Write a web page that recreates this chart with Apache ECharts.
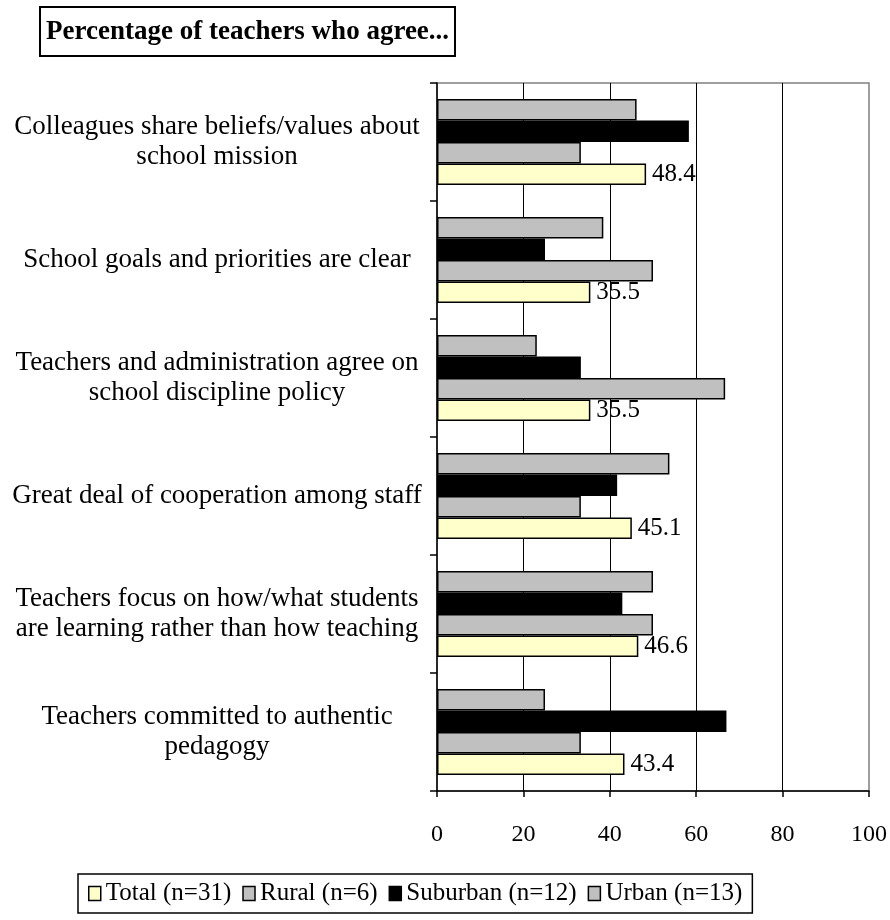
<!DOCTYPE html>
<html>
<head>
<meta charset="utf-8">
<script src="https://cdn.jsdelivr.net/npm/echarts@6/dist/echarts.min.js"></script>
<style>
  html, body { margin: 0; padding: 0; background: #ffffff; }
  #chart { width: 890px; height: 920px; }
</style>
</head>
<body>
<div id="chart"></div>
<script>
// Survey items, top to bottom
const categories = [
  'Colleagues share beliefs/values about\nschool mission',
  'School goals and priorities are clear',
  'Teachers and administration agree on\nschool discipline policy',
  'Great deal of cooperation among staff',
  'Teachers focus on how/what students\nare learning rather than how teaching',
  'Teachers committed to authentic\npedagogy'
];

// Percent agreeing, per group
const totalValues    = [48.4, 35.5, 35.5, 45.1, 46.6, 43.4];
const ruralValues    = [33.3, 50.0, 66.7, 33.3, 50.0, 33.3];
const suburbanValues = [58.3, 25.0, 33.3, 41.7, 42.9, 67.0];
const urbanValues    = [46.2, 38.5, 23.1, 53.8, 50.0, 25.0];

const seriesNames = ['Total (n=31)', 'Rural (n=6)', 'Suburban (n=12)', 'Urban (n=13)'];
const xTickLabels = ['0', '20', '40', '60', '80', '100'];

const FONT = "'Liberation Serif', 'Times New Roman', serif";
const chart = echarts.init(document.getElementById('chart'), null, { renderer: 'canvas' });

const barBorder = { borderColor: '#000000', borderWidth: 1.5 };

function barSeries(name, values, color, withLabel) {
  return {
    name: name,
    type: 'bar',
    data: values,
    barGap: '0%',
    barCategoryGap: '27%',
    itemStyle: Object.assign({ color: color }, barBorder),
    label: {
      show: withLabel,
      position: 'right',
      distance: 6,
      color: '#000000',
      fontFamily: FONT,
      fontSize: 25,
      formatter: p => p.value.toFixed(1)
    },
    emphasis: { disabled: true },
    animation: false
  };
}

chart.setOption({
  backgroundColor: '#ffffff',
  textStyle: { fontFamily: FONT },
  title: {
    text: 'Percentage of teachers who agree...',
    left: 40,
    top: 7,
    padding: [12, 6, 10, 6],
    borderColor: '#000000',
    borderWidth: 2,
    textStyle: { fontFamily: FONT, fontSize: 27, fontWeight: 'bold', color: '#000000' }
  },
  legend: {
    data: seriesNames,
    left: 78,
    top: 874,
    padding: [7, 10],
    itemGap: 11,
    itemWidth: 12,
    itemHeight: 14,
    icon: 'rect',
    borderColor: '#000000',
    borderWidth: 1.5,
    selectedMode: false,
    itemStyle: { borderColor: '#000000', borderWidth: 1.5 },
    textStyle: { fontFamily: FONT, fontSize: 25, color: '#000000' }
  },
  grid: {
    left: 437,
    right: 20,
    top: 83,
    bottom: 129,
    show: true,
    borderColor: '#808080',
    borderWidth: 1.5,
    containLabel: false
  },
  xAxis: {
    type: 'value',
    min: 0,
    max: 100,
    interval: 20,
    axisLine: { show: true, lineStyle: { color: '#000000', width: 1.5 } },
    axisTick: { show: true, length: 6, lineStyle: { color: '#000000', width: 1.5 } },
    axisLabel: {
      margin: 32,
      fontFamily: FONT,
      fontSize: 24,
      color: '#000000',
      formatter: v => xTickLabels[Math.round(v / 20)]
    },
    splitLine: { show: true, showMinLine: false, showMaxLine: false, lineStyle: { color: '#000000', width: 1 } }
  },
  yAxis: {
    type: 'category',
    data: categories,
    inverse: true,
    axisLine: { show: true, lineStyle: { color: '#000000', width: 1.5 } },
    axisTick: { show: true, length: 7, lineStyle: { color: '#000000', width: 1.5 } },
    axisLabel: {
      margin: 220,
      align: 'center',
      padding: [6, 0, 0, 0],
      fontFamily: FONT,
      fontSize: 27,
      lineHeight: 30,
      color: '#000000'
    },
    splitLine: { show: false }
  },
  series: [
    barSeries(seriesNames[3], urbanValues, '#c0c0c0', false),
    barSeries(seriesNames[2], suburbanValues, '#000000', false),
    barSeries(seriesNames[1], ruralValues, '#c0c0c0', false),
    barSeries(seriesNames[0], totalValues, '#ffffcc', true)
  ]
});
</script>
</body>
</html>
